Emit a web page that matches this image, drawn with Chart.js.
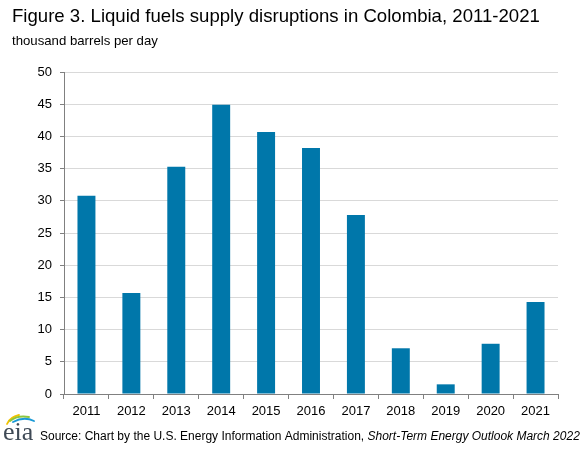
<!DOCTYPE html>
<html><head><meta charset="utf-8">
<script src="https://cdn.jsdelivr.net/npm/chart.js@4"></script>
<style>html,body{margin:0;padding:0;background:#fff;}#wrap{width:587px;height:450px;position:relative;}</style>
</head><body><div id="wrap"><canvas id="c" width="587" height="450"></canvas></div>
<script>
const years = ['2011','2012','2013','2014','2015','2016','2017','2018','2019','2020','2021'];
const disruptions = [30.8, 15.7, 35.3, 44.9, 40.7, 38.2, 27.8, 7.1, 1.5, 7.8, 14.3];
const yTicks = [0,5,10,15,20,25,30,35,40,45,50];
const titleText = 'Figure 3. Liquid fuels supply disruptions in Colombia, 2011-2021';
const unitText = 'thousand barrels per day';
const sourceText = 'Source: Chart by the U.S. Energy Information Administration, ';
const sourceItalic = 'Short-Term Energy Outlook March 2022';

const FONT = '"Liberation Sans", Arial, sans-serif';

const decor = {
  id: 'decor',
  afterDraw(chart) {
    const ctx = chart.ctx;
    ctx.save();
    ctx.fillStyle = '#000';
    ctx.textBaseline = 'alphabetic';
    ctx.textAlign = 'left';
    ctx.font = '18.6px ' + FONT;
    ctx.fillText(titleText, 12, 22);
    ctx.font = '13.2px ' + FONT;
    ctx.fillText(unitText, 12, 44.5);
    // source
    ctx.font = '12px ' + FONT;
    ctx.fillText(sourceText, 40, 440);
    const w = ctx.measureText(sourceText).width;
    ctx.font = 'italic 12px ' + FONT;
    ctx.fillText(sourceItalic, 40 + w, 440);
    // eia logo swooshes
    ctx.lineCap = 'round';
    const sw = [
      ['#f2c200', [7, 424], [10, 417], [19, 415]],
      ['#8dc63f', [10, 421], [17, 415], [29, 417]],
      ['#1a9ad6', [13, 422], [24, 416], [34, 421]]
    ];
    sw.forEach(([col, a, c, b]) => {
      ctx.strokeStyle = col;
      ctx.lineWidth = 1.8;
      ctx.beginPath();
      ctx.moveTo(a[0], a[1]);
      ctx.quadraticCurveTo(c[0], c[1], b[0], b[1]);
      ctx.stroke();
    });
    ctx.fillStyle = '#3f4a56';
    ctx.font = '26px "Liberation Serif", "DejaVu Serif", serif';
    ctx.fillText('eia', 3, 440);
    ctx.restore();
  }
};

new Chart(document.getElementById('c'), {
  type: 'bar',
  data: {
    labels: years,
    datasets: [{
      data: disruptions,
      backgroundColor: '#0077aa',
      borderWidth: 0,
      categoryPercentage: 0.8,
      barPercentage: 0.5
    }]
  },
  options: {
    responsive: false,
    animation: false,
    devicePixelRatio: 1,
    layout: { padding: { top: 72, right: 29, bottom: 0, left: 0 } },
    plugins: { legend: { display: false }, tooltip: { enabled: false } },
    scales: {
      x: {
        grid: { display: true, offset: true, drawOnChartArea: false, tickLength: 5, color: '#808080' },
        border: { color: '#808080', width: 1 },
        ticks: { color: '#000', font: { family: FONT, size: 13 }, padding: 5, maxRotation: 0 },
        afterFit(s) { s.height = 56; }
      },
      y: {
        min: 0, max: 50,
        afterBuildTicks(s) { s.ticks = yTicks.map(v => ({ value: v })); },
        grid: { color: '#d9d9d9', tickLength: 4, tickColor: '#808080' },
        border: { color: '#808080', width: 1 },
        ticks: { color: '#000', font: { family: FONT, size: 13 }, padding: 8 },
        afterFit(s) { s.width = 64; }
      }
    }
  },
  plugins: [decor]
});
</script></body></html>
